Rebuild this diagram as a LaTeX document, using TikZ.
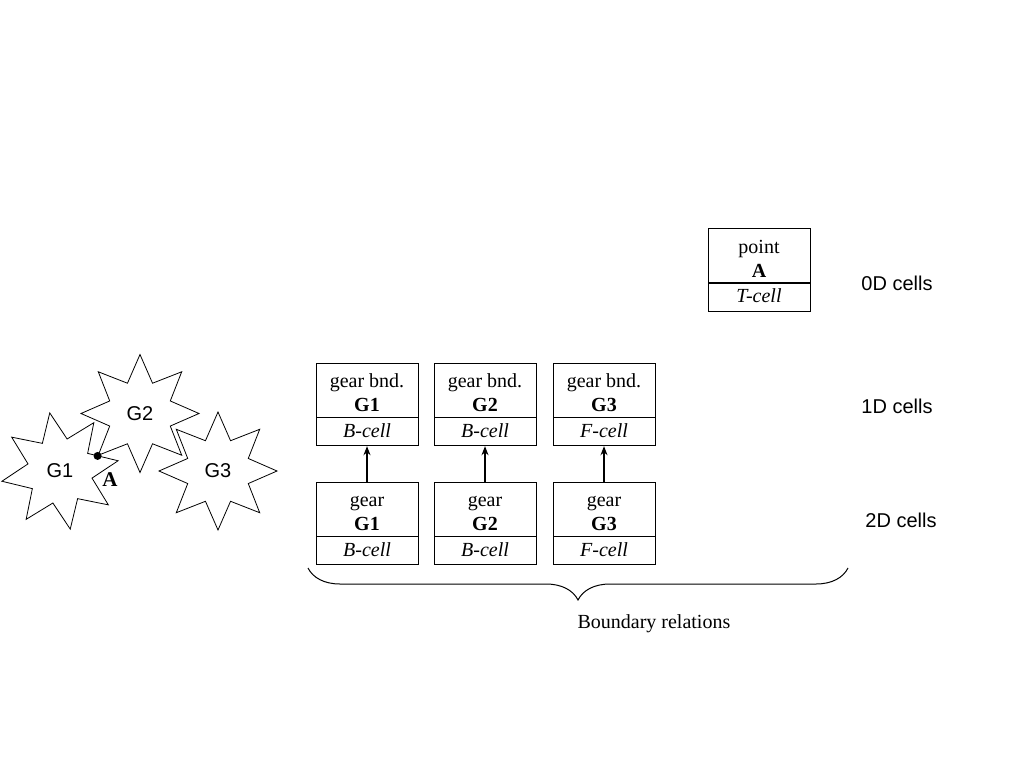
\documentclass[tikz,border=0pt]{standalone}
\usepackage{fontspec}
\setmainfont{Liberation Serif}
\setsansfont{Liberation Sans}
\usetikzlibrary{positioning,shapes.geometric,decorations.pathreplacing,arrows.meta}
\newcommand\cellstrut{\rule{0pt}{20pt}}
\tikzset{
  cellhead/.style={draw,line width=0.8pt,minimum width=102pt,minimum height=54pt,inner sep=0pt,align=center,font=\fontsize{20}{24}\selectfont},
  celltype/.style={draw,line width=0.8pt,minimum width=102pt,minimum height=28pt,inner sep=0pt,text depth=3pt,font=\fontsize{20}{24}\selectfont\itshape},
  gear/.style={draw,star,star points=8,star point ratio=1.8,minimum size=118pt,inner sep=0pt,line width=0.8pt,font=\sffamily\fontsize{20}{22}\selectfont},
  dimlabel/.style={font=\sffamily\fontsize{20}{24}\selectfont},
  bndarrow/.style={-{Stealth[length=9pt,width=7pt]},line width=1.2pt}
}
\begin{document}
\begin{tikzpicture}[x=1pt,y=-1pt]
\useasboundingbox (0,0) rectangle (1024,768);
% gears
\node[gear,shape border rotate=10] (g1) at (60,471) {G1};
\node[gear] (g2) at (140,413.5) {G2};
\node[gear] (g3) at (218,471) {G3};
\node[circle,fill,inner sep=0pt,minimum size=8pt] (ptA) at (g2.outer point 4) {};
\node[font=\bfseries\fontsize{21}{24}\selectfont] (lblA) at (110,480) {A};
% cells
\node[cellhead] (pnt) at (759,255.5) {\cellstrut point\\\textbf{A}};
\node[celltype,below=0pt of pnt] (pntc) {T-cell};
\foreach \i/\x/\c in {1/367/B,2/485/B,3/604/F}{
  \node[cellhead] (bnd\i) at (\x,390) {\cellstrut gear bnd.\\\textbf{G\i}};
  \node[celltype,below=0pt of bnd\i] (bndc\i) {\c-cell};
  \node[cellhead] (gear\i) at (\x,509) {\cellstrut gear\\\textbf{G\i}};
  \node[celltype,below=0pt of gear\i] (gearc\i) {\c-cell};
  \draw[bndarrow] (gear\i) -- (bndc\i);
}
\node[dimlabel] (d0) at (897,283) {0D cells};
\node[dimlabel] (d1) at (897,406) {1D cells};
\node[dimlabel] (d2) at (901,520) {2D cells};
% brace
\coordinate (brl) at (308,568);
\coordinate (brr) at (848,568);
\draw[decorate,decoration={brace,mirror,amplitude=32pt},line width=1pt] (brl) -- (brr);
\node[anchor=west,font=\fontsize{20}{24}\selectfont] (brlbl) at (574,624) {Boundary relations};
\end{tikzpicture}
\end{document}
